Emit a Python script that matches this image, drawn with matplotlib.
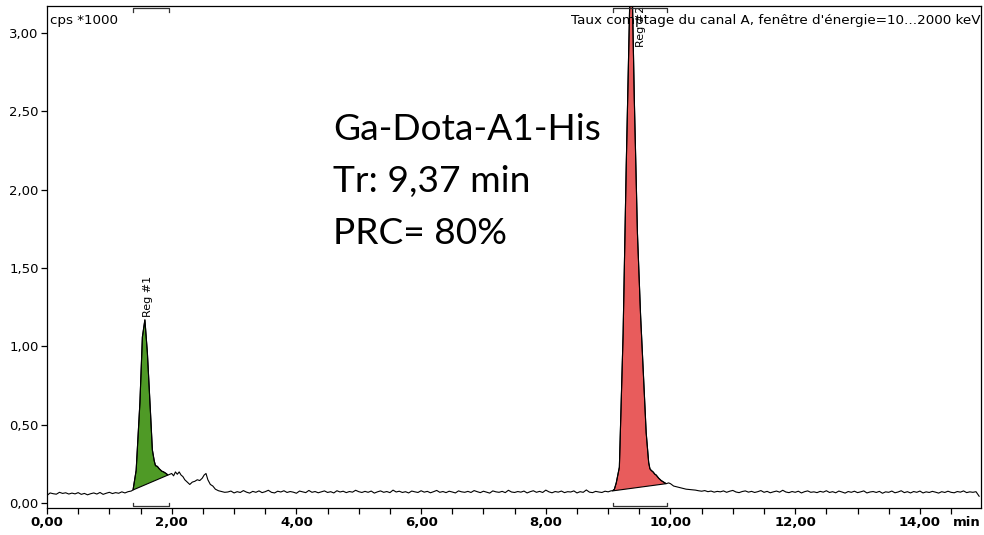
"""Radio-HPLC chromatogram: Ga-Dota-A1-His."""

import numpy as np
import matplotlib
matplotlib.use("Agg")
import matplotlib.pyplot as plt
from matplotlib.ticker import MultipleLocator, FuncFormatter
import matplotlib.transforms as mtransforms


# ---------------------------------------------------------------------
# Data (cps * 1000 vs retention time in min)
# ---------------------------------------------------------------------
# baseline before peak 1, 0.00 - 1.35 min every 0.05 min
pre_start, step = 0.00, 0.05
pre_counts = [
    0.050, 0.066, 0.061, 0.058, 0.070, 0.063, 0.067, 0.059, 0.065, 0.060,
    0.068, 0.057, 0.063, 0.054, 0.061, 0.066, 0.059, 0.069, 0.057, 0.064,
    0.070, 0.062, 0.068, 0.064, 0.073, 0.066, 0.074, 0.078,
]

# peak 1 and the bumps behind it
peak1_time = [
    1.38, 1.43, 1.49, 1.53, 1.57, 1.61, 1.66, 1.69, 1.72, 1.74,
    1.77, 1.80, 1.84, 1.87, 1.91, 1.94, 1.97, 2.00, 2.03, 2.06,
    2.09, 2.12, 2.15, 2.18, 2.21, 2.25, 2.29, 2.33, 2.37, 2.41,
    2.45, 2.49, 2.52, 2.55, 2.58, 2.62, 2.66, 2.70, 2.75, 2.80,
    2.85,
]
peak1_counts = [
    0.085, 0.21, 0.64, 1.06, 1.17, 0.96, 0.58, 0.34, 0.27, 0.24,
    0.235, 0.22, 0.205, 0.20, 0.19, 0.18, 0.185, 0.19, 0.175, 0.20,
    0.185, 0.20, 0.18, 0.17, 0.15, 0.135, 0.12, 0.135, 0.14, 0.15,
    0.145, 0.16, 0.18, 0.19, 0.15, 0.12, 0.11, 0.09, 0.08, 0.075,
    0.07,
]

# baseline between peaks, 2.90 - 9.05 min every 0.05 min
mid_start = 2.90
mid_counts = [
    0.072, 0.078, 0.066, 0.074, 0.069, 0.081, 0.071, 0.065, 0.076, 0.070,
    0.079, 0.068, 0.074, 0.083, 0.070, 0.066, 0.077, 0.072, 0.080, 0.069,
    0.075, 0.071, 0.064, 0.078, 0.073, 0.068, 0.082, 0.070, 0.075, 0.067,
    0.073, 0.079, 0.069, 0.074, 0.066, 0.080, 0.072, 0.077, 0.068, 0.075,
    0.071, 0.083, 0.074, 0.069, 0.076, 0.070, 0.078, 0.065, 0.073, 0.079,
    0.070, 0.075, 0.068, 0.084, 0.072, 0.077, 0.069, 0.074, 0.066, 0.078,
    0.073, 0.069, 0.080, 0.071, 0.076, 0.067, 0.074, 0.082, 0.070, 0.075,
    0.068, 0.077, 0.072, 0.066, 0.079, 0.073, 0.070, 0.076, 0.069, 0.081,
    0.074, 0.068, 0.077, 0.071, 0.065, 0.079, 0.073, 0.070, 0.076, 0.068,
    0.083, 0.072, 0.069, 0.075, 0.071, 0.078, 0.066, 0.074, 0.080, 0.070,
    0.076, 0.069, 0.084, 0.073, 0.067, 0.075, 0.071, 0.078, 0.068, 0.074,
    0.072, 0.079, 0.066, 0.074, 0.070, 0.085, 0.071, 0.068, 0.076, 0.072,
    0.069, 0.077, 0.073, 0.080,
]

# peak 2 (main product)
peak2_time = [
    9.07, 9.10, 9.13, 9.18, 9.24, 9.29, 9.33, 9.36, 9.39, 9.42,
    9.47, 9.52, 9.56, 9.61, 9.65, 9.67, 9.69, 9.72, 9.75, 9.77,
    9.81, 9.85, 9.89, 9.93, 9.97, 10.00, 10.05, 10.10, 10.15, 10.20,
    10.25, 10.30, 10.35,
]
peak2_counts = [
    0.079, 0.09, 0.13, 0.23, 1.08, 2.15, 2.89, 3.45, 3.20, 2.57,
    1.72, 1.20, 0.87, 0.45, 0.26, 0.22, 0.21, 0.20, 0.185, 0.18,
    0.16, 0.145, 0.135, 0.125, 0.13, 0.125, 0.11, 0.105, 0.10, 0.095,
    0.09, 0.088, 0.086,
]

# baseline after peak 2, 10.40 - 14.95 min every 0.05 min
post_start = 10.40
post_counts = [
    0.084, 0.080, 0.077, 0.081, 0.074, 0.078, 0.071, 0.076, 0.073, 0.079,
    0.070, 0.077, 0.082, 0.072, 0.068, 0.075, 0.079, 0.071, 0.076, 0.069,
    0.074, 0.081, 0.070, 0.076, 0.067, 0.073, 0.078, 0.071, 0.083, 0.072,
    0.068, 0.075, 0.070, 0.077, 0.066, 0.074, 0.079, 0.070, 0.073, 0.068,
    0.076, 0.071, 0.080, 0.069, 0.074, 0.067, 0.078, 0.072, 0.065, 0.075,
    0.070, 0.077, 0.068, 0.073, 0.079, 0.066, 0.072, 0.075, 0.069, 0.076,
    0.064, 0.073, 0.070, 0.078, 0.067, 0.072, 0.080, 0.068, 0.074, 0.066,
    0.075, 0.070, 0.078, 0.066, 0.073, 0.069, 0.076, 0.071, 0.065, 0.074,
    0.069, 0.077, 0.070, 0.067, 0.075, 0.071, 0.079, 0.068, 0.073, 0.070,
    0.074, 0.045,
]

# integration regions (min)
region_names = ["Reg #1", "Reg #2"]
region_start = [1.38, 9.07]
region_end = [1.94, 9.93]
region_colors = ["#4f9a26", "#e85c5c"]

annotation_lines = ["Ga-Dota-A1-His", "Tr: 9,37 min", "PRC= 80%"]


def sampled(start, values):
    return list(start + step * np.arange(len(values)))


time = np.array(
    sampled(pre_start, pre_counts)
    + peak1_time
    + sampled(mid_start, mid_counts)
    + peak2_time
    + sampled(post_start, post_counts)
)
counts = np.array(pre_counts + peak1_counts + mid_counts + peak2_counts + post_counts)


# ---------------------------------------------------------------------
# Figure
# ---------------------------------------------------------------------
plt.rcParams.update(
    {
        "font.family": ["DejaVu Sans"],
        "font.size": 9,
        "axes.linewidth": 0.9,
    }
)

fig = plt.figure(figsize=(9.84, 5.35), dpi=100)
ax = fig.add_axes([47 / 984, 1 - 508 / 535, (981 - 47) / 984, (508 - 6) / 535])

ax.set_xlim(0, 14.98)
ax.set_ylim(-0.03, 3.17)

# region fills with straight baseline between region ends
for start, end, color in zip(region_start, region_end, region_colors):
    mask = (time >= start - 1e-6) & (time <= end + 1e-6)
    xs = np.append(time[mask], time[mask][0])
    ys = np.append(counts[mask], counts[mask][0])
    ax.fill(xs, ys, facecolor=color, edgecolor="black", linewidth=0.8, zorder=2)

ax.plot(time, counts, color="black", linewidth=0.8, zorder=3)

# region labels
ax.text(1.62, 1.19, region_names[0], rotation=90, ha="center", va="bottom",
        fontsize=8, zorder=4)
ax.text(9.52, 2.91, region_names[1], rotation=90, ha="center", va="bottom",
        fontsize=8, zorder=4, clip_on=True)

# region brackets on top and bottom edges
trans = mtransforms.blended_transform_factory(ax.transData, ax.transAxes)
for start, end in zip(region_start, region_end):
    s, e = start, end + 0.01
    ax.plot([s, s, e, e], [0.989, 0.997, 0.997, 0.989], transform=trans,
            color="#333333", linewidth=0.9, clip_on=False, zorder=5)
    ax.plot([s, s, e, e], [0.010, 0.004, 0.004, 0.010], transform=trans,
            color="#333333", linewidth=0.9, clip_on=False, zorder=5)

# ticks
ax.xaxis.set_major_locator(MultipleLocator(2))
ax.xaxis.set_minor_locator(MultipleLocator(0.5))
ax.yaxis.set_major_locator(MultipleLocator(0.5))
ax.xaxis.set_major_formatter(FuncFormatter(
    lambda v, _: "" if v > 14.5 else f"{v:.2f}".replace(".", ",")))
ax.yaxis.set_major_formatter(FuncFormatter(
    lambda v, _: f"{v:.2f}".replace(".", ",")))
ax.tick_params(axis="both", which="both", direction="out", length=4,
               width=0.9, pad=2)
for lab in ax.get_xticklabels():
    lab.set_fontweight("bold")
    lab.set_fontsize(9.5)
for lab in ax.get_yticklabels():
    lab.set_fontsize(9.5)

fig.text(967 / 984, 1 - 523 / 535, "min", ha="center", va="center",
         fontsize=9.5, fontweight="bold")

# header texts
ax.text(0.003, 0.985, "cps *1000", transform=ax.transAxes, ha="left", va="top",
        fontsize=9.7)
ax.text(0.999, 0.985, "Taux comptage du canal A, fenêtre d'énergie=10...2000 keV",
        transform=ax.transAxes, ha="right", va="top", fontsize=9.7, zorder=6)

# annotation, one line per text, baselines at 140/192/244 px from top
for line, y_px in zip(annotation_lines, [140, 192, 244]):
    fig.text(333 / 984, 1 - y_px / 535, line, ha="left", va="baseline",
             fontsize=26.7, family=["Lato", "DejaVu Sans"])

fig.savefig("out.png", dpi=100, facecolor="white")
